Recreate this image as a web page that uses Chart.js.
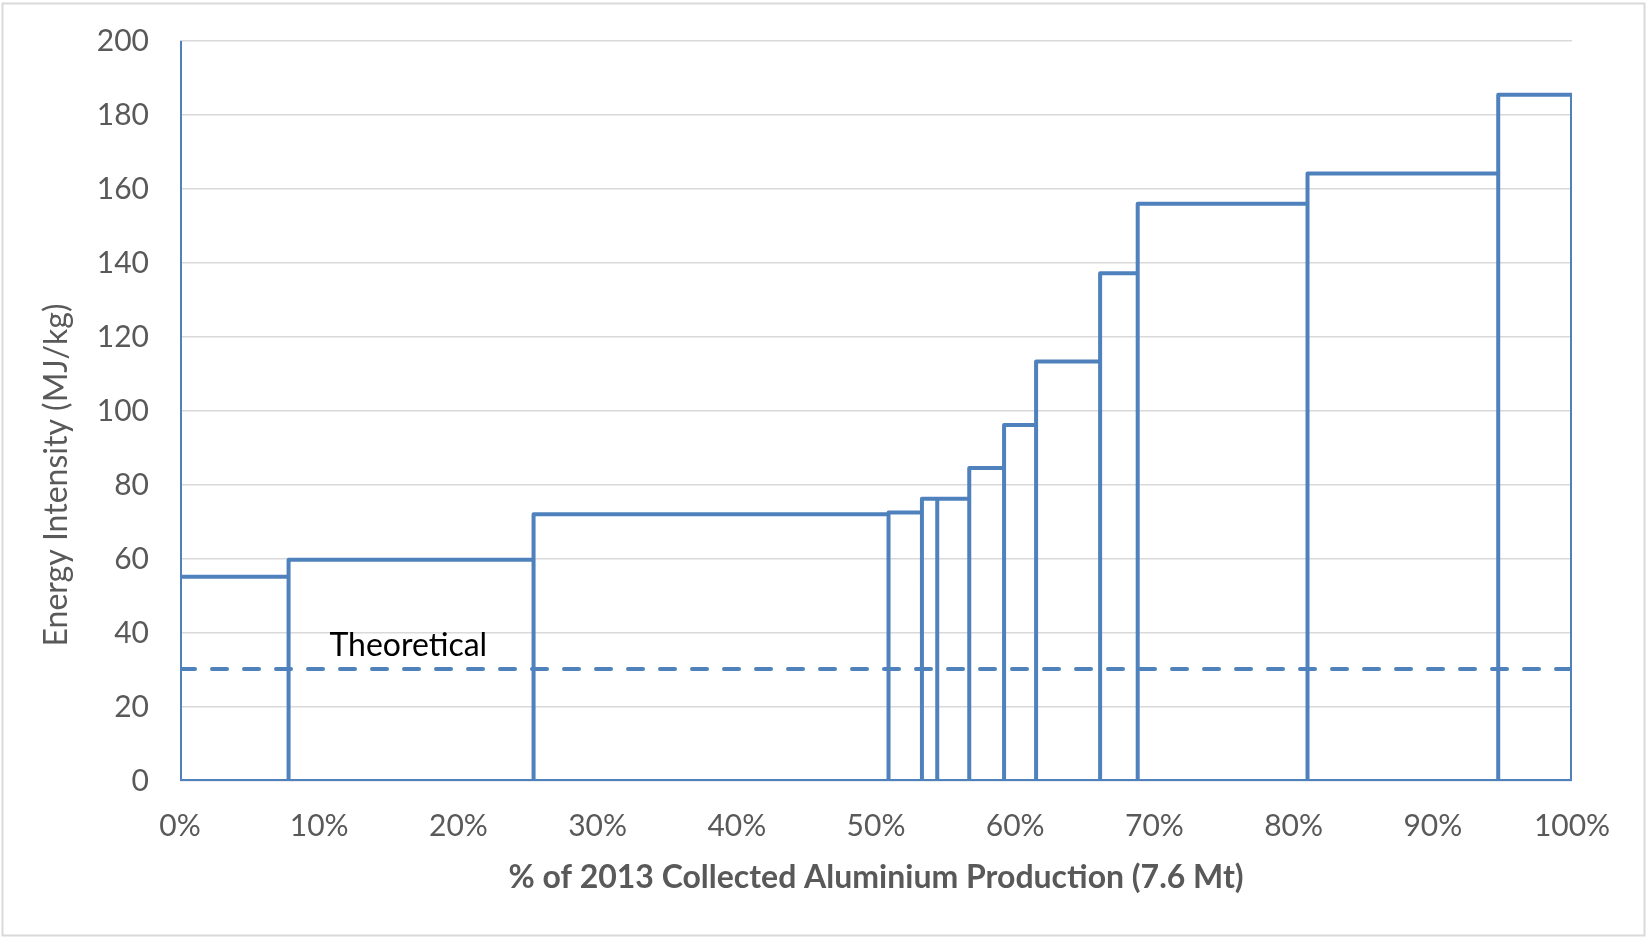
<!DOCTYPE html>
<html>
<head>
<meta charset="utf-8">
<script src="https://cdn.jsdelivr.net/npm/chart.js@4/dist/chart.umd.min.js"></script>
<style>
  html, body { margin: 0; padding: 0; background: #fff; }
  #wrap { width: 1648px; height: 937px; }
</style>
</head>
<body>
<div id="wrap"><canvas id="chart" width="1648" height="937"></canvas></div>
<script>
// block edges, % of 2013 collected aluminium production
const boundaries = [0, 7.8, 25.4, 50.9, 53.3, 54.4, 56.7, 59.2, 61.5, 66.1, 68.8, 81.0, 94.7, 100];
// energy intensity of each block, MJ/kg
const intensity = [55.2, 59.8, 72.1, 72.6, 76.3, 76.3, 84.6, 96.2, 113.4, 137.2, 156.0, 164.2, 185.5];
const firstEdgeTop = 200;
const theoretical = 30.3;
const theoryLabel = { text: 'Theoretical', x: 16.4, y: 36.6 };
const xTicks = [0, 10, 20, 30, 40, 50, 60, 70, 80, 90, 100];
const yTicks = [0, 20, 40, 60, 80, 100, 120, 140, 160, 180, 200];
const yTitle = 'Energy Intensity (MJ/kg)';
const xTitle = '% of 2013 Collected Aluminium Production (7.6 Mt)';

const blue = '#4F81BD';
const grey = '#595959';

// outline of the blocks
const outline = [{ x: boundaries[0], y: firstEdgeTop }];
intensity.forEach((h, i) => {
  const x0 = boundaries[i], x1 = boundaries[i + 1];
  outline.push({ x: x0, y: 0 }, { x: x0, y: h }, { x: x1, y: h }, { x: x1, y: 0 });
});
outline.push({ x: boundaries[0], y: 0 });

const theoryLine = [
  { x: boundaries[0], y: theoretical },
  { x: boundaries[boundaries.length - 1], y: theoretical }
];

const frame = {
  id: 'frame',
  beforeDraw(chart) {
    const ctx = chart.ctx;
    ctx.save();
    ctx.fillStyle = '#fff';
    ctx.fillRect(0, 0, chart.width, chart.height);
    ctx.strokeStyle = '#d9d9d9';
    ctx.lineWidth = 2;
    ctx.strokeRect(2.5, 3.5, 1642, 932);
    ctx.restore();
  }
};

const labels = {
  id: 'labels',
  afterDatasetsDraw(chart) {
    const { ctx, scales } = chart;
    ctx.save();
    ctx.font = '32px Lato';
    ctx.fillStyle = '#000';
    ctx.textAlign = 'center';
    ctx.textBaseline = 'middle';
    ctx.fillText(theoryLabel.text, scales.x.getPixelForValue(theoryLabel.x), scales.y.getPixelForValue(theoryLabel.y));
    // y axis title, sits a little below the middle of the axis
    ctx.translate(57, 475);
    ctx.rotate(-Math.PI / 2);
    ctx.fillStyle = grey;
    ctx.fillText(yTitle, 0, 0);
    ctx.restore();
  }
};

new Chart(document.getElementById('chart'), {
  type: 'scatter',
  data: {
    datasets: [
      {
        data: outline,
        showLine: true,
        borderColor: blue,
        borderWidth: 4,
        borderJoinStyle: 'round',
        pointRadius: 0,
        tension: 0
      },
      {
        data: theoryLine,
        showLine: true,
        borderColor: blue,
        borderWidth: 4,
        borderDash: [15, 17],
        borderCapStyle: 'round',
        pointRadius: 0
      }
    ]
  },
  options: {
    responsive: false,
    animation: false,
    layout: { padding: { left: 0, top: 41, right: 76, bottom: 0 } },
    plugins: {
      legend: { display: false },
      tooltip: { enabled: false }
    },
    scales: {
      x: {
        type: 'linear',
        min: 0,
        max: 100,
        afterBuildTicks: (s) => { s.ticks = xTicks.map(v => ({ value: v })); },
        afterFit: (s) => { s.height = 937 - 781; s.paddingLeft = 0; s.paddingRight = 0; },
        grid: { display: false, drawTicks: false },
        border: { display: false },
        ticks: {
          padding: 27,
          color: grey,
          font: { family: 'Lato', size: 30 },
          callback: (v) => v + '%'
        },
        title: {
          display: true,
          text: xTitle,
          color: grey,
          font: { family: 'Lato', size: 32, weight: 'bold' },
          padding: { top: 0, bottom: 40 }
        }
      },
      y: {
        min: 0,
        max: 200,
        afterBuildTicks: (s) => { s.ticks = yTicks.map(v => ({ value: v })); },
        afterFit: (s) => { s.width = 180; s.paddingTop = 0; s.paddingBottom = 0; },
        grid: { color: '#d9d9d9', lineWidth: 1.5, drawTicks: false },
        border: { display: false },
        ticks: {
          padding: 31,
          color: grey,
          font: { family: 'Lato', size: 30 }
        }
      }
    }
  },
  plugins: [frame, labels]
});
</script>
</body>
</html>
